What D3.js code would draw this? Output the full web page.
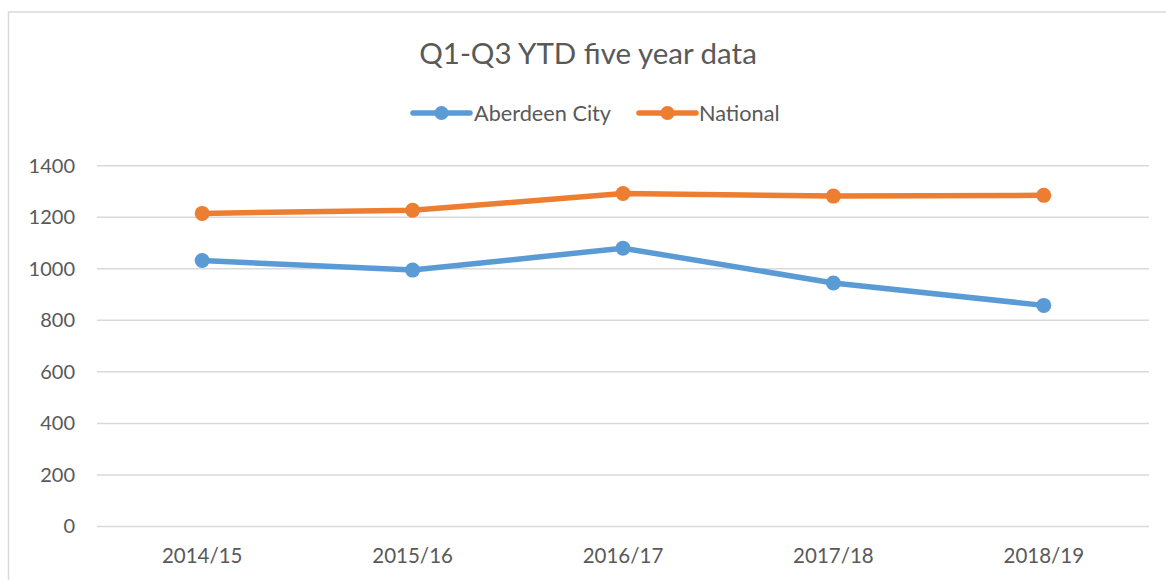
<!DOCTYPE html>
<html>
<head>
<meta charset="utf-8">
<script src="https://cdn.jsdelivr.net/npm/d3@7"></script>
<style>
  html, body { margin: 0; padding: 0; background: #fff; }
  svg { display: block; }
  text { font-family: Lato, "Open Sans", sans-serif; fill: #595959; }
</style>
</head>
<body>
<svg id="chart" width="1166" height="580"></svg>
<script>
const categories = ["2014/15", "2015/16", "2016/17", "2017/18", "2018/19"];
const aberdeenCity = [1032, 995, 1080, 945, 858];
const national = [1215, 1227, 1292, 1282, 1285];
const yTicks = [0, 200, 400, 600, 800, 1000, 1200, 1400];
const seriesNames = ["Aberdeen City", "National"];
const seriesColors = ["#5B9BD5", "#ED7D31"];
const titleText = "Q1-Q3 YTD five year data";

const series = [
  { name: seriesNames[0], values: aberdeenCity, color: seriesColors[0] },
  { name: seriesNames[1], values: national, color: seriesColors[1] }
];

const svg = d3.select("#chart");
const plot = { left: 97, right: 1149, top: 165.7, bottom: 526.5 };

// outer chart border (cropped right/bottom)
svg.append("rect")
  .attr("x", 8.5).attr("y", 12)
  .attr("width", 1200).attr("height", 700)
  .attr("fill", "#fff").attr("stroke", "#D9D9D9").attr("stroke-width", 1.5);

const x = d3.scaleBand().domain(categories).range([plot.left, plot.right]).padding(0);
const y = d3.scaleLinear().domain([0, 1400]).range([plot.bottom, plot.top]);

// gridlines
svg.append("g")
  .selectAll("line").data(yTicks).join("line")
  .attr("x1", plot.left).attr("x2", plot.right)
  .attr("y1", d => y(d)).attr("y2", d => y(d))
  .attr("stroke", "#D9D9D9").attr("stroke-width", 1.5);

// y axis labels
const yAxis = d3.axisLeft(y).tickValues(yTicks).tickSize(0).tickPadding(0).tickFormat(d3.format("d"));
const gy = svg.append("g").attr("transform", `translate(75,0)`).call(yAxis);
gy.select(".domain").remove();
gy.selectAll("text").attr("font-size", 20).style("font-family", "Lato, sans-serif").attr("fill", "#595959");

// x axis labels
const xAxis = d3.axisBottom(x).tickSize(0).tickPadding(0);
const gx = svg.append("g").attr("transform", `translate(0,${plot.bottom + 22})`).call(xAxis);
gx.select(".domain").remove();
gx.selectAll("text").attr("font-size", 20.5).style("font-family", "Lato, sans-serif").attr("fill", "#595959");

// lines
const cx = (d, i) => x(categories[i]) + x.bandwidth() / 2;
const line = d3.line().x((d, i) => cx(d, i)).y(d => y(d));

series.forEach(s => {
  svg.append("path")
    .datum(s.values)
    .attr("d", line)
    .attr("fill", "none")
    .attr("stroke", s.color)
    .attr("stroke-width", 5.5)
    .attr("stroke-linejoin", "round")
    .attr("stroke-linecap", "round");
  svg.append("g").selectAll("circle").data(s.values).join("circle")
    .attr("cx", (d, i) => cx(d, i))
    .attr("cy", d => y(d))
    .attr("r", 7.5)
    .attr("fill", s.color);
});

// title
svg.append("text")
  .attr("x", 588).attr("y", 64)
  .attr("text-anchor", "middle")
  .attr("font-size", 29.5)
  .text(titleText);

// legend
const legendItems = [
  { x0: 413, tx: 474 },
  { x0: 639, tx: 699 }
];
series.forEach((s, i) => {
  const g = svg.append("g");
  const lx = legendItems[i].x0;
  g.append("line").attr("x1", lx).attr("x2", lx + 57).attr("y1", 113).attr("y2", 113)
    .attr("stroke", s.color).attr("stroke-width", 5.5).attr("stroke-linecap", "round");
  g.append("circle").attr("cx", lx + 28.5).attr("cy", 113).attr("r", 7).attr("fill", s.color);
  g.append("text").attr("x", legendItems[i].tx).attr("y", 120.5)
    .attr("font-size", 21.7).text(s.name);
});
</script>
</body>
</html>
